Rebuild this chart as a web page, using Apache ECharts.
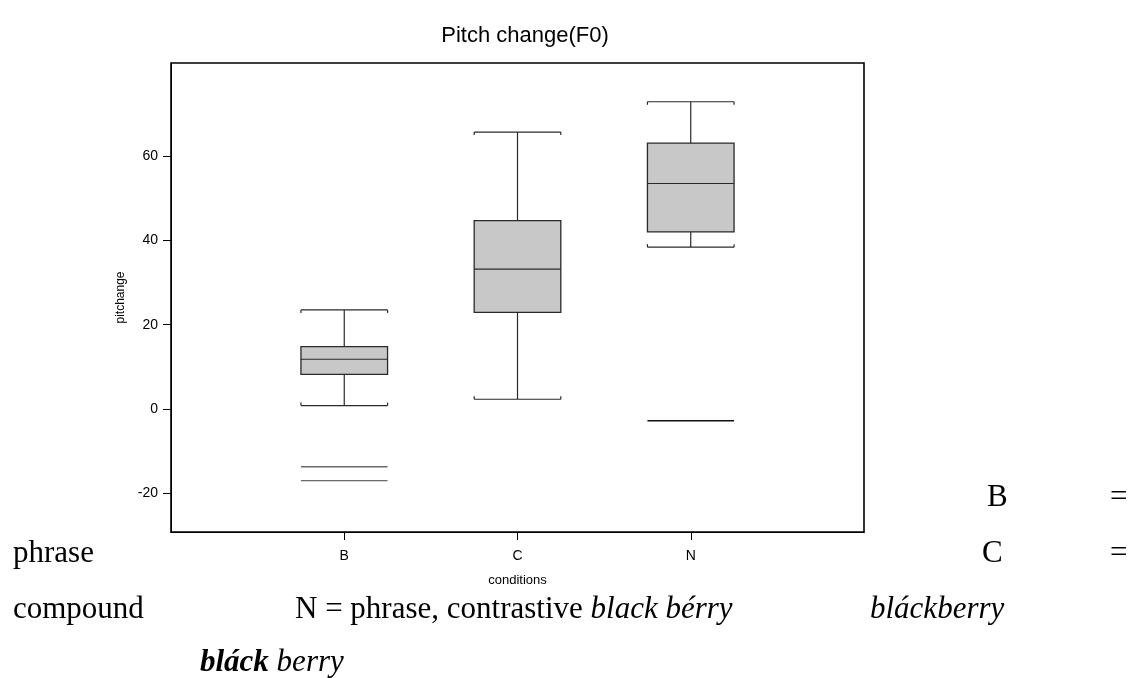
<!DOCTYPE html>
<html>
<head>
<meta charset="utf-8">
<script src="https://cdn.jsdelivr.net/npm/echarts@6/dist/echarts.min.js"></script>
<style>
html,body{margin:0;padding:0;background:#fff;}
#chart{width:1128px;height:678px;}
</style>
</head>
<body>
<div id="chart"></div>
<script>
// ---- data ----
const categories = ['B', 'C', 'N'];
const whiskerLow = [0.8, 2.3, 38.4];
const q1 = [8.2, 22.9, 42.0];
const medians = [11.8, 33.2, 53.5];
const q3 = [14.8, 44.7, 63.1];
const whiskerHigh = [23.5, 65.7, 72.9];
const outlierCats = ['B', 'B', 'N'];
const outlierValues = [-13.7, -17.0, -2.8];
const yTickValues = [-20, 0, 20, 40, 60];
const title = 'Pitch change(F0)';
const yName = 'pitchange';
const xName = 'conditions';

const boxData = categories.map((c, i) => [i + 1, whiskerLow[i], q1[i], medians[i], q3[i], whiskerHigh[i]]);
const outlierData = outlierCats.map((c, i) => [categories.indexOf(c) + 1, outlierValues[i]]);

const chart = echarts.init(document.getElementById('chart'), null, {renderer: 'canvas'});

const lineStyle = {stroke: '#2a2a2a', lineWidth: 1.2};

function renderBox(params, api) {
  const x = api.value(0);
  const lo = api.coord([x, api.value(1)]);
  const p1 = api.coord([x, api.value(2)]);
  const md = api.coord([x, api.value(3)]);
  const p3 = api.coord([x, api.value(4)]);
  const hi = api.coord([x, api.value(5)]);
  const w = api.size([0.5, 0])[0];
  const cx = lo[0], l = cx - w / 2, r = cx + w / 2;
  const t = 3;
  const L = (x1, y1, x2, y2) => ({type: 'line', shape: {x1, y1, x2, y2}, style: lineStyle});
  return {
    type: 'group',
    children: [
      L(cx, hi[1], cx, p3[1]),
      L(cx, p1[1], cx, lo[1]),
      L(l, hi[1], r, hi[1]), L(l, hi[1], l, hi[1] + t), L(r, hi[1], r, hi[1] + t),
      L(l, lo[1], r, lo[1]), L(l, lo[1], l, lo[1] - t), L(r, lo[1], r, lo[1] - t),
      {type: 'rect', shape: {x: l, y: p3[1], width: w, height: p1[1] - p3[1]},
       style: {fill: '#c8c8c8', stroke: '#2a2a2a', lineWidth: 1.3}},
      L(l, md[1], r, md[1])
    ]
  };
}

function renderOutlier(params, api) {
  const x = api.value(0);
  const p = api.coord([x, api.value(1)]);
  const w = api.size([0.5, 0])[0];
  return {type: 'line', shape: {x1: p[0] - w / 2, y1: p[1], x2: p[0] + w / 2, y2: p[1]},
          style: {stroke: params.dataIndex < 2 ? '#6a6a6a' : '#111', lineWidth: 1.4}};
}

const serif = '"Liberation Serif", "DejaVu Serif", serif';
const sans = '"Liberation Sans", Arial, sans-serif';

const option = {
  backgroundColor: '#fff',
  animation: false,
  title: {
    text: title, left: 520, top: 20, textAlign: 'center',
    textStyle: {fontFamily: sans, fontSize: 22, fontWeight: 'normal', color: '#000'}
  },
  grid: {left: 171, right: 264, top: 63, bottom: 146, show: true, borderColor: '#000', borderWidth: 1.6, backgroundColor: 'transparent'},
  xAxis: {
    type: 'value', min: 0, max: 4, interval: 1,
    name: xName, nameLocation: 'middle', nameGap: 42,
    nameTextStyle: {fontFamily: sans, fontSize: 13, color: '#000'},
    axisLine: {show: true, onZero: false, lineStyle: {color: '#000', width: 1}},
    axisTick: {show: true, length: 8, lineStyle: {color: '#000'}, customValues: [1, 2, 3]},
    axisLabel: {customValues: [1, 2, 3], margin: 17, fontFamily: sans, fontSize: 14, color: '#000',
      formatter: v => categories[Math.round(v) - 1] || ''},
    splitLine: {show: false}
  },
  yAxis: {
    type: 'value', min: -29.2, max: 82.1,
    name: yName, nameLocation: 'middle', nameGap: 44, nameRotate: 90,
    nameTextStyle: {fontFamily: sans, fontSize: 12, color: '#000'},
    axisLine: {show: true, onZero: false, lineStyle: {color: '#000', width: 1}},
    axisTick: {show: true, length: 8, lineStyle: {color: '#000'}, customValues: yTickValues},
    axisLabel: {customValues: yTickValues, margin: 13, fontFamily: sans, fontSize: 14, color: '#000'},
    splitLine: {show: false}
  },
  series: [
    {type: 'custom', renderItem: renderBox, data: boxData, encode: {x: 0, y: [1, 2, 3, 4, 5]}, silent: true},
    {type: 'custom', renderItem: renderOutlier, data: outlierData, encode: {x: 0, y: 1}, silent: true}
  ],
  graphic: [
    {type: 'text', left: 987, top: 482, style: {text: 'B', font: '31px ' + serif, fill: '#000'}},
    {type: 'text', left: 1110, top: 482, style: {text: '=', font: '31px ' + serif, fill: '#000'}},
    {type: 'text', left: 13, top: 538, style: {text: 'phrase', font: '31px ' + serif, fill: '#000'}},
    {type: 'text', left: 982, top: 538, style: {text: 'C', font: '31px ' + serif, fill: '#000'}},
    {type: 'text', left: 1110, top: 538, style: {text: '=', font: '31px ' + serif, fill: '#000'}},
    {type: 'text', left: 13, top: 594, style: {text: 'compound', font: '31px ' + serif, fill: '#000'}},
    {type: 'text', left: 295, top: 594, style: {
      text: 'N = phrase, contrastive {i|black bérry}', font: '31px ' + serif, fill: '#000',
      rich: {i: {fontFamily: serif, fontSize: 31, fontStyle: 'italic', color: '#000'}}}},
    {type: 'text', left: 870, top: 594, style: {text: 'bláckberry', font: 'italic 31px ' + serif, fill: '#000'}},
    {type: 'text', left: 200, top: 647, style: {
      text: '{b|bláck} {i|berry}', font: 'italic 31px ' + serif, fill: '#000',
      rich: {b: {fontFamily: serif, fontSize: 31, fontStyle: 'italic', fontWeight: 'bold', color: '#000'},
             i: {fontFamily: serif, fontSize: 31, fontStyle: 'italic', color: '#000'}}}}
  ]
};
chart.setOption(option);
</script>
</body>
</html>
